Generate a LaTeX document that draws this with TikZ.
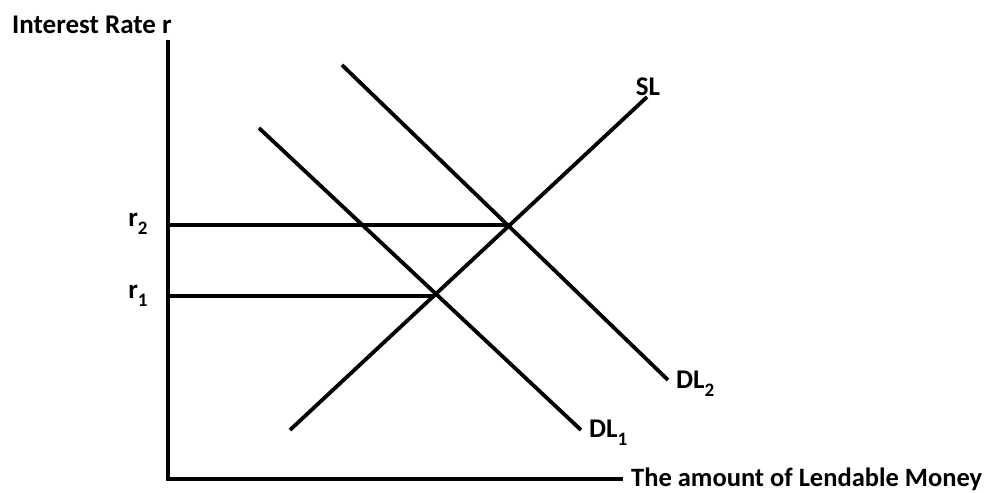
\documentclass[tikz,border=0pt]{standalone}
\usepackage{fontspec}
\setmainfont{Carlito}
\usetikzlibrary{positioning,calc}
\newcommand{\lowidx}[1]{\raisebox{-0.3em}{\fontsize{19}{19}\selectfont #1}}

\begin{document}
\begin{tikzpicture}[x=1pt, y=-1pt,
  curve/.style={line width=3.8pt},
  lbl/.style={font=\bfseries\fontsize{27}{31}\selectfont, inner sep=0pt}
]
  \useasboundingbox (0,0) rectangle (992,492);

  % Axes
  \coordinate (Ytop) at (168,40);
  \coordinate (O) at (168,479);
  \coordinate (Xend) at (623,479);
  \draw[curve] (Ytop) -- (O) -- (Xend);
  \node[lbl, anchor=west] (ylab) at (12,25) {Interest Rate r};
  \node[lbl, anchor=west, font=\bfseries\fontsize{26.5}{30}\selectfont] (xlab) at (631,479) {The amount of Lendable Money};

  % Supply and demand lines
  \coordinate (SLa) at (290,430);
  \coordinate (SLb) at (647,97);
  \coordinate (DLa1) at (259,128);
  \coordinate (DLb1) at (581,430);
  \coordinate (DLa2) at (342,65);
  \coordinate (DLb2) at (668,380);
  \draw[curve] (SLa) -- (SLb);
  \draw[curve] (DLa1) -- (DLb1);
  \draw[curve] (DLa2) -- (DLb2);
  \node[lbl] (SL) at (648,87) {SL};
  \node[lbl, anchor=west] (DL1) at (589,433) {DL\lowidx{1}};
  \node[lbl, anchor=west] (DL2) at (676,384) {DL\lowidx{2}};

  % Equilibrium rates
  \coordinate (E1) at (435,296);
  \coordinate (E2) at (509,225);
  \coordinate (A1) at (168,296);
  \coordinate (A2) at (168,225);
  \draw[curve] (A1) -- (E1);
  \draw[curve] (A2) -- (E2);
  \node[lbl] (r1) at (138,296) {r\lowidx{1}};
  \node[lbl] (r2) at (138,224) {r\lowidx{2}};
\end{tikzpicture}
\end{document}
